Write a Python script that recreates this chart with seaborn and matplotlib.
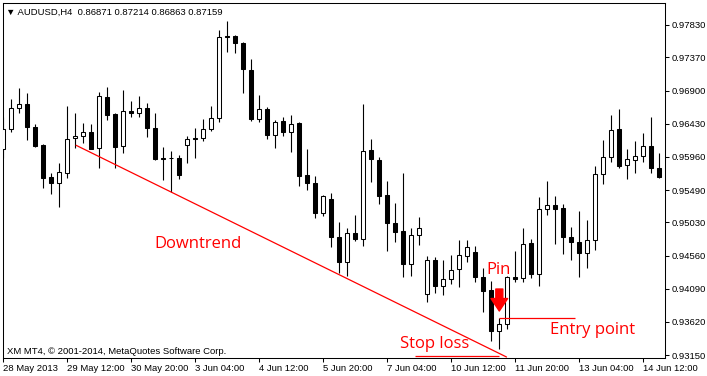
import numpy as np
import pandas as pd
import matplotlib
matplotlib.use("Agg")
import matplotlib.pyplot as plt
import seaborn as sns

# AUDUSD H4 candles, 28 May - 14 Jun 2013
opens = [0.96071, 0.96355, 0.96653, 0.96710, 0.96383, 0.96128, 0.95674, 0.95589, 0.95731, 0.96227,
         0.96256, 0.96313, 0.96086, 0.96809, 0.96568, 0.96114, 0.96610, 0.96582, 0.96653, 0.96369,
         0.95944, 0.95944, 0.95944, 0.96128, 0.96227, 0.96227, 0.96355, 0.96511, 0.97674, 0.97674,
         0.97575, 0.97192, 0.96497, 0.96639, 0.96270, 0.96469, 0.96313, 0.96440, 0.95703, 0.95589,
         0.95164, 0.95362, 0.94823, 0.94469, 0.94880, 0.94795, 0.96057, 0.95915, 0.95419, 0.95022,
         0.94909, 0.94441, 0.94852, 0.94015, 0.94497, 0.94129, 0.94228, 0.94370, 0.94554, 0.94611,
         0.94256, 0.94072, 0.93490, 0.93590, 0.94256, 0.94242, 0.94738, 0.94299, 0.95221, 0.95277,
         0.95235, 0.94823, 0.94753, 0.94597, 0.94781, 0.95717, 0.95958, 0.96355, 0.95845, 0.95915,
         0.95972, 0.96114, 0.95802]
highs = [0.96525, 0.96781, 0.96937, 0.96866, 0.96426, 0.96142, 0.95731, 0.95873, 0.96681, 0.96582,
         0.96440, 0.96426, 0.96880, 0.96951, 0.96582, 0.96908, 0.96752, 0.96823, 0.96724, 0.96582,
         0.96100, 0.96043, 0.95986, 0.96256, 0.96369, 0.96497, 0.96681, 0.97759, 0.97887, 0.97688,
         0.97589, 0.97348, 0.96837, 0.96667, 0.96483, 0.96525, 0.96554, 0.96454, 0.96071, 0.95689,
         0.95419, 0.95447, 0.95036, 0.94951, 0.95135, 0.96710, 0.96213, 0.95958, 0.95618, 0.95306,
         0.95731, 0.94951, 0.95107, 0.94554, 0.94540, 0.94497, 0.94568, 0.94781, 0.94781, 0.94696,
         0.94384, 0.94199, 0.93670, 0.94270, 0.94625, 0.94951, 0.94795, 0.95391, 0.95618, 0.95405,
         0.95291, 0.94965, 0.95192, 0.95065, 0.95830, 0.96199, 0.96554, 0.96639, 0.96071, 0.96185,
         0.96298, 0.96525, 0.96015]
lows = [0.95944, 0.96313, 0.96582, 0.96199, 0.96100, 0.95518, 0.95433, 0.95249, 0.95660, 0.96086,
        0.96157, 0.96065, 0.95802, 0.96483, 0.95802, 0.96015, 0.96525, 0.96525, 0.96242, 0.95915,
        0.95632, 0.95462, 0.95646, 0.95873, 0.95944, 0.96185, 0.96327, 0.96454, 0.97447, 0.97433,
        0.96866, 0.96469, 0.96454, 0.96213, 0.96086, 0.96256, 0.96029, 0.95547, 0.95490, 0.95093,
        0.95121, 0.94682, 0.94313, 0.94270, 0.94767, 0.94696, 0.95603, 0.95291, 0.94625, 0.94753,
        0.94256, 0.94270, 0.94710, 0.93902, 0.94029, 0.94001, 0.94157, 0.94114, 0.94469, 0.94185,
        0.93760, 0.93349, 0.93235, 0.93519, 0.94185, 0.94185, 0.94242, 0.94129, 0.95135, 0.94724,
        0.94582, 0.94497, 0.94256, 0.94384, 0.94639, 0.95575, 0.95887, 0.95802, 0.95646, 0.95731,
        0.95887, 0.95731, 0.95660]
closes = [0.96355, 0.96653, 0.96710, 0.96383, 0.96114, 0.95660, 0.95589, 0.95745, 0.96213, 0.96256,
          0.96313, 0.96071, 0.96823, 0.96554, 0.96100, 0.96610, 0.96582, 0.96653, 0.96369, 0.95930,
          0.95930, 0.95937, 0.95703, 0.96213, 0.96213, 0.96355, 0.96511, 0.97660, 0.97660, 0.97575,
          0.97206, 0.96497, 0.96639, 0.96270, 0.96454, 0.96313, 0.96426, 0.95689, 0.95589, 0.95164,
          0.95405, 0.94823, 0.94469, 0.94880, 0.94795, 0.96043, 0.95930, 0.95405, 0.95022, 0.94894,
          0.94441, 0.94852, 0.94951, 0.94497, 0.94129, 0.94228, 0.94355, 0.94568, 0.94682, 0.94256,
          0.94058, 0.93490, 0.93590, 0.94256, 0.94228, 0.94724, 0.94299, 0.95221, 0.95277, 0.95221,
          0.94823, 0.94753, 0.94597, 0.94781, 0.95717, 0.95958, 0.96341, 0.95830, 0.95930, 0.95972,
          0.96114, 0.95802, 0.95674]

time_ticks = [0, 8, 16, 24, 32, 40, 48, 56, 64, 72, 80]
time_labels = ["28 May 2013", "29 May 12:00", "30 May 20:00", "3 Jun 04:00", "4 Jun 12:00",
               "5 Jun 20:00", "7 Jun 04:00", "10 Jun 12:00", "11 Jun 20:00", "13 Jun 04:00",
               "14 Jun 12:00"]
price_ticks = [0.93150, 0.93620, 0.94090, 0.94560, 0.95030, 0.95490,
               0.95960, 0.96430, 0.96900, 0.97370, 0.97830]

# hand-drawn objects on the chart
trend_x = [9.1, 62.9]
trend_y = [0.96124, 0.93122]
stop_x = [51.4, 61.9]
stop_level = 0.93136
entry_x = [62.0, 71.5]
entry_level = 0.93670
pin_bar = 62
arrow_from = 0.94086
arrow_to = 0.93774
notes = [("Downtrend", 18.9, 0.94727), ("Stop loss", 49.6, 0.93306),
         ("Pin", 60.4, 0.94355), ("Entry point", 68.3, 0.93504)]

df = pd.DataFrame({"open": opens, "high": highs, "low": lows, "close": closes})
df["bar"] = np.arange(len(df))
df["bull"] = df["close"] >= df["open"]
df["body_lo"] = df[["open", "close"]].min(axis=1)
df["body_h"] = (df["close"] - df["open"]).abs()

sns.set_theme(style="white")
plt.rcParams["font.family"] = ["Liberation Sans", "DejaVu Sans"]

fig = plt.figure(figsize=(7.07, 3.76), dpi=100)
ax = fig.add_axes([0.0038, 0.0479, 0.9368, 0.9449])

ax.vlines(df["bar"], df["low"], df["high"], color="black", lw=0.8, zorder=2)
ax.bar(df["bar"], df["body_h"], bottom=df["body_lo"], width=0.5,
       color=np.where(df["bull"], "white", "black"), edgecolor="black", lw=0.75, zorder=3)

sns.lineplot(x=trend_x, y=trend_y, color="red", lw=0.9, ax=ax, zorder=4)
ax.hlines(stop_level, stop_x[0], stop_x[1], color="red", lw=0.9, zorder=4)
ax.hlines(entry_level, entry_x[0], entry_x[1], color="red", lw=0.9, zorder=4)
ax.annotate("", xy=(pin_bar, arrow_to), xytext=(pin_bar, arrow_from),
            arrowprops=dict(arrowstyle="simple,head_width=1.0,head_length=0.75,tail_width=0.42",
                            color="red", shrinkA=0, shrinkB=0), zorder=5)
for txt, nx, ny in notes:
    ax.text(nx, ny, txt, color="red", fontsize=12, ha="left", va="center",
            family=["Open Sans", "DejaVu Sans"], zorder=5)

ax.set_xlim(-0.075, 82.71)
ax.set_ylim(0.93108, 0.98146)
ax.yaxis.tick_right()
ax.set_yticks(price_ticks)
ax.set_yticklabels([f"{p:.5f}" for p in price_ticks])
ax.set_xticks(time_ticks)
ax.set_xticklabels(time_labels, ha="left")
ax.tick_params(axis="both", which="major", direction="out", length=3, width=0.75,
               color="black", labelcolor="black", labelsize=6.8, pad=2)
ax.tick_params(axis="x", bottom=True, pad=1.5)
ax.tick_params(axis="y", right=True, left=False)
for s in ax.spines.values():
    s.set_color("black")
    s.set_linewidth(0.75)
ax.set_xlabel("")
ax.set_ylabel("")

fig.text(6 / 707, 1 - 12 / 376, "\u25bc AUDUSD,H4  0.86871 0.87214 0.86863 0.87159",
         fontsize=6.8, va="center", ha="left", color="black")
fig.text(6.7 / 707, 1 - 351 / 376, "XM MT4, \u00a9 2001-2014, MetaQuotes Software Corp.",
         fontsize=6.8, va="center", ha="left", color="black")

fig.savefig("out.png", dpi=100)
